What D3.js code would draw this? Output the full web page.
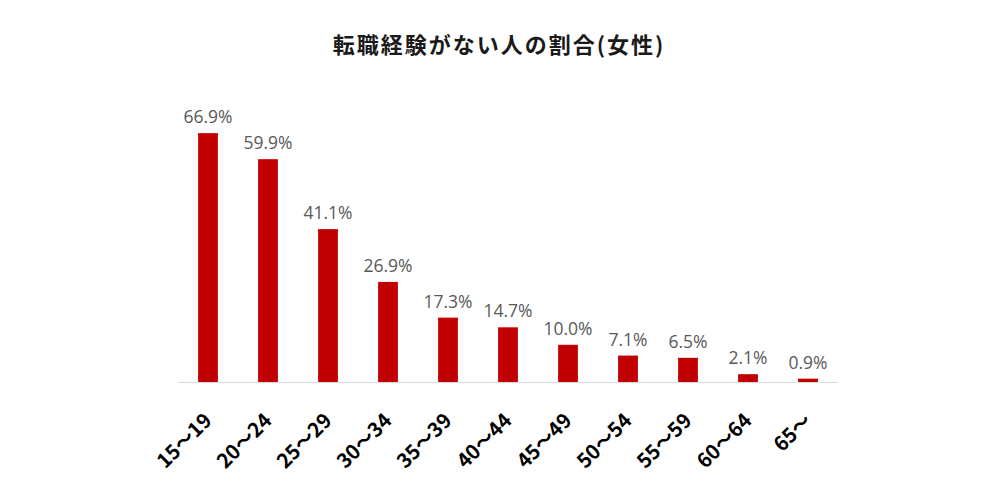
<!DOCTYPE html>
<html><head><meta charset="utf-8">
<script src="https://cdn.jsdelivr.net/npm/d3@7"></script>
<style>body{margin:0;background:#fff;} svg{display:block;}</style>
</head><body>
<svg id="c" width="1000" height="500"></svg>
<script>
const title = "転職経験がない人の割合(女性)";
const categories = ["15～19","20～24","25～29","30～34","35～39","40～44","45～49","50～54","55～59","60～64","65～"];
const values = [66.9,59.9,41.1,26.9,17.3,14.7,10.0,7.1,6.5,2.1,0.9];

const svg = d3.select("#c");
const x = d3.scaleBand().domain(categories).range([178, 838]).paddingInner(0.67).paddingOuter(0.335);
const y = d3.scaleLinear().domain([0, 70]).range([382, 382 - 70*3.72]);

svg.append("text").attr("x", 499).attr("y", 53).attr("text-anchor","middle")
  .attr("font-family","'Noto Sans CJK JP'").attr("font-weight","bold").attr("font-size",22)
  .attr("letter-spacing",2)
  .attr("fill","#1a1a1a").text(title);

svg.append("line").attr("x1",178).attr("x2",838).attr("y1",382.5).attr("y2",382.5)
  .attr("stroke","#d9d9d9").attr("stroke-width",1);

svg.selectAll("rect.bar").data(values).join("rect").attr("class","bar")
  .attr("x",(d,i)=>x(categories[i])).attr("width",x.bandwidth())
  .attr("y",d=>y(d)).attr("height",d=>y(0)-y(d)).attr("fill","#c00000");

svg.selectAll("text.val").data(values).join("text").attr("class","val")
  .attr("x",(d,i)=>x(categories[i])+x.bandwidth()/2).attr("y",d=>y(d)-10)
  .attr("text-anchor","middle").attr("font-family","'Open Sans', sans-serif").attr("font-size",17.5)
  .attr("fill","#595959").text(d=>d.toFixed(1)+"%");

const xAxis = d3.axisBottom(x).tickSize(0).tickPadding(0);
const g = svg.append("g").attr("transform","translate(0,382)").call(xAxis);
g.select(".domain").remove();
g.selectAll("text").attr("font-family","'Noto Sans CJK JP', sans-serif").attr("font-weight","bold")
  .attr("font-size",20).attr("fill","#000").attr("text-anchor","end")
  .attr("dy",null).attr("y",0)
  .attr("transform","translate(5,40) rotate(-45)");
</script>
</body></html>
